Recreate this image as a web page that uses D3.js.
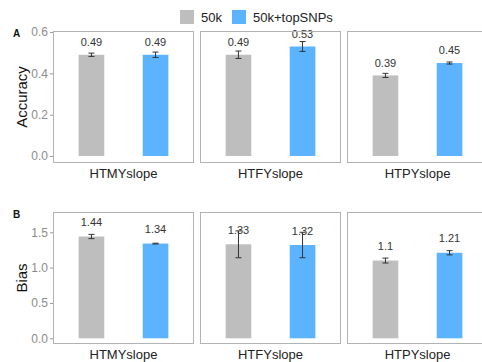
<!DOCTYPE html>
<html><head><meta charset="utf-8">
<script src="https://cdn.jsdelivr.net/npm/d3@7"></script>
<style>body{margin:0;background:#fff}svg{display:block;font-family:"Liberation Sans",Arial,sans-serif}</style>
</head><body><svg id="c" width="482" height="362"></svg>
<script>
const traits = ["HTMYslope","HTFYslope","HTPYslope"];
const groups = ["50k","50k+topSNPs"];
const accuracyMean = [[0.49,0.49],[0.49,0.53],[0.39,0.45]];
const accuracyErr  = [[0.008,0.013],[0.018,0.024],[0.01,0.005]];
const biasMean = [[1.44,1.34],[1.33,1.32],[1.10,1.21]];
const biasErr  = [[0.03,0.005],[0.19,0.18],[0.035,0.03]];
const accTicks = [0.0,0.2,0.4,0.6];
const biasTicks = [0.0,0.5,1.0,1.5];
const colors = ["#bebebe","#5cb3ff"];

const svg = d3.select("#c");
const panelX = [53,200,347], pw = 141;
const rows = [
  {label:"A", title:"Accuracy", mean:accuracyMean, err:accuracyErr, ticks:accTicks, fmt:d3.format(".1f"), dom:[-0.034,0.605], top:31, bottom:163, off:0.06, lab:d=>d3.format(".2f")(d)},
  {label:"B", title:"Bias", mean:biasMean, err:biasErr, ticks:biasTicks, fmt:d3.format(".1f"), dom:[-0.081,1.787], top:212, bottom:344, off:0.2, lab:d=>String(+d.toFixed(2))}
];
const x = d3.scaleBand().domain(groups).range([0,pw]).paddingInner(0.6).paddingOuter(0.4);

rows.forEach(r=>{
  const y = d3.scaleLinear().domain(r.dom).range([r.bottom,r.top]);
  // y axis
  const ax = svg.append("g").attr("transform",`translate(${panelX[0]},0)`)
    .call(d3.axisLeft(y).tickValues(r.ticks).tickFormat(r.fmt).tickSize(3).tickPadding(2));
  ax.select(".domain").remove();
  ax.selectAll(".tick line").attr("stroke","#999");
  ax.selectAll(".tick text").attr("fill","#8c8c8c").attr("font-size",12).attr("font-family","Liberation Sans, Arial, sans-serif");
  svg.append("text").attr("transform",`translate(27,${(r.top+r.bottom)/2}) rotate(-90)`)
    .attr("text-anchor","middle").attr("font-size",15).attr("fill","#111").text(r.title);
  svg.append("text").attr("x",13).attr("y",r.top+6).attr("font-size",10).attr("font-weight","bold").attr("fill","#111").text(r.label);

  traits.forEach((t,i)=>{
    const g = svg.append("g").attr("transform",`translate(${panelX[i]},0)`);
    groups.forEach((grp,j)=>{
      const v = r.mean[i][j], e = r.err[i][j];
      const bx = x(grp), bw = x.bandwidth(), cx = bx+bw/2;
      g.append("rect").attr("x",bx).attr("width",bw).attr("y",y(v)).attr("height",y(0)-y(v)).attr("fill",colors[j]);
      g.append("line").attr("x1",cx).attr("x2",cx).attr("y1",y(v-e)).attr("y2",y(v+e)).attr("stroke","#333").attr("stroke-width",1);
      [v-e,v+e].forEach(w=>g.append("line").attr("x1",cx-3).attr("x2",cx+3).attr("y1",y(w)).attr("y2",y(w)).attr("stroke","#333").attr("stroke-width",1));
      g.append("text").attr("x",cx).attr("y",y(v+r.off)).attr("dy","0.35em").attr("text-anchor","middle")
        .attr("font-size",11).attr("fill","#333").text(r.lab(v));
    });
    g.append("rect").attr("x",0.5).attr("y",r.top+0.5).attr("width",pw-1).attr("height",r.bottom-r.top-1)
      .attr("fill","none").attr("stroke","#b3b3b3").attr("stroke-width",1);
    g.append("text").attr("x",pw/2).attr("y",r.bottom+15).attr("text-anchor","middle").attr("font-size",13).attr("fill","#222").text(t);
  });
});

// legend
const leg = svg.append("g");
const legX = [180,232];
groups.forEach((grp,j)=>{
  leg.append("rect").attr("x",legX[j]).attr("y",10).attr("width",14).attr("height",14).attr("fill",colors[j]);
  leg.append("text").attr("x",legX[j]+21).attr("y",21.5).attr("font-size",13).attr("fill","#222").text(grp);
});
</script></body></html>
